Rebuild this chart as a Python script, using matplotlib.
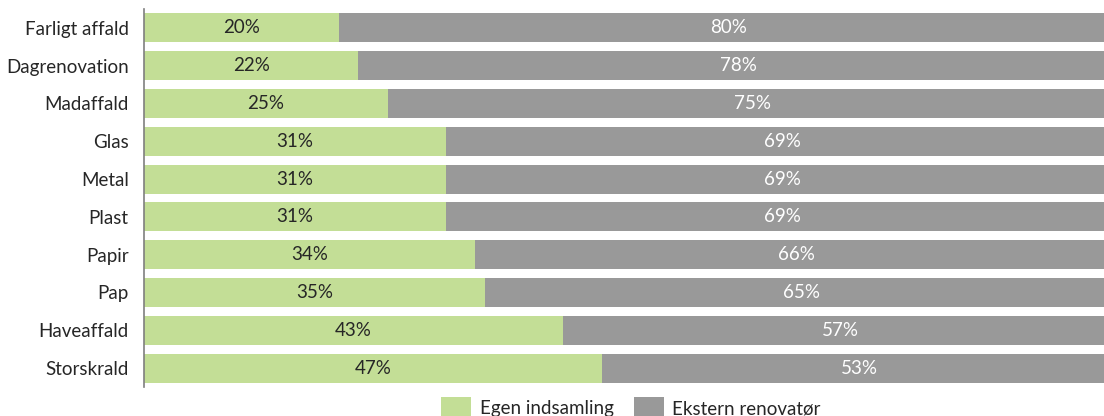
import numpy as np
import matplotlib.pyplot as plt

plt.rcParams['font.family'] = ['Lato', 'DejaVu Sans']

kategorier = ['Farligt affald', 'Dagrenovation', 'Madaffald', 'Glas', 'Metal',
              'Plast', 'Papir', 'Pap', 'Haveaffald', 'Storskrald']
egen = [20, 22, 25, 31, 31, 31, 34, 35, 43, 47]
ekstern = [80, 78, 75, 69, 69, 69, 66, 65, 57, 53]

groen = '#c3de96'
graa = '#999999'

fig = plt.figure(figsize=(11.04, 4.16), dpi=100)
ax = fig.add_axes([144/1104, 29/416, 974/1104, 378/416])

y = np.arange(len(kategorier))
b1 = ax.barh(y, egen, height=0.77, color=groen, label='Egen indsamling')
b2 = ax.barh(y, ekstern, left=egen, height=0.77, color=graa, label='Ekstern renovatør')

ax.bar_label(b1, labels=[f'{v}%' for v in egen], label_type='center',
             fontsize=13.5, color='#262626')
ax.bar_label(b2, labels=[f'{v}%' for v in ekstern], label_type='center',
             fontsize=13.5, color='white')

ax.set_ylim(len(kategorier) - 0.5, -0.5)
ax.set_xlim(0, 100)
ax.set_yticks(y)
ax.set_yticklabels(kategorier, fontsize=13.5, color='#262626')
ax.tick_params(axis='y', length=0, pad=11)
ax.set_xticks([])
for s in ['top', 'right', 'bottom']:
    ax.spines[s].set_visible(False)
ax.spines['left'].set_color('#7f7f7f')
ax.spines['left'].set_linewidth(1.2)

fig.legend(handles=[b1, b2], loc='upper center', ncol=2, frameon=False,
           bbox_to_anchor=(631/1104, 23/416), borderaxespad=0, borderpad=0.2,
           fontsize=13.5, handlelength=1.6, handleheight=1.5, columnspacing=1.1,
           handletextpad=0.45, labelcolor='#262626')

fig.savefig('out.png', dpi=100)
